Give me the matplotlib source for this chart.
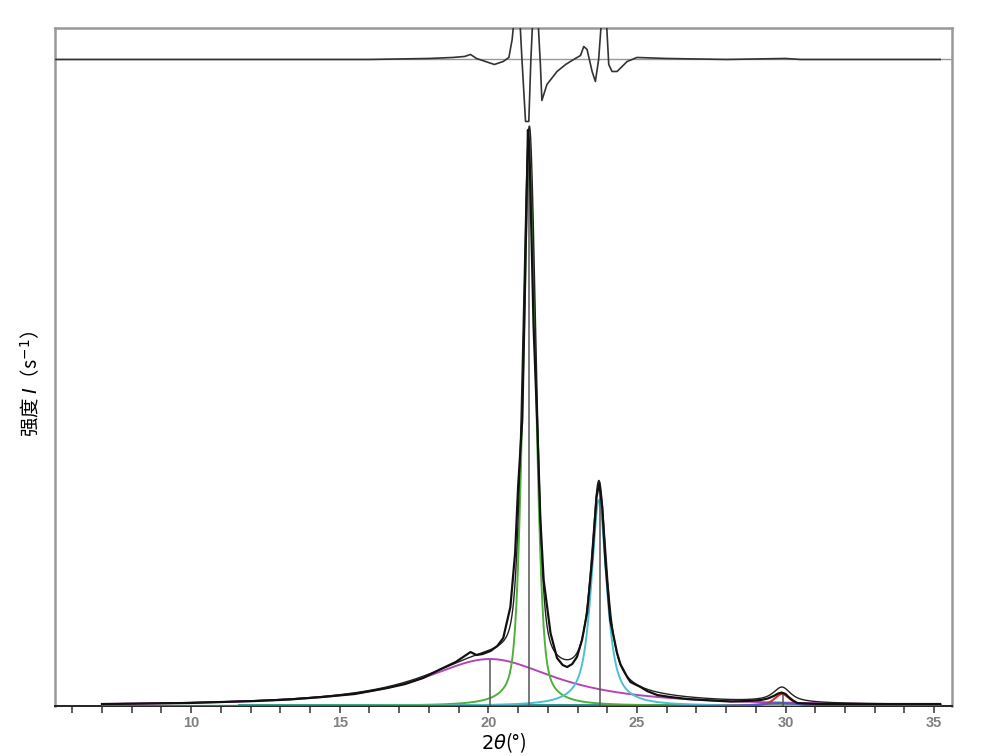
#!/usr/bin/env python3
# -*- coding: utf-8 -*-
"""XRD 分峰拟合图：实测曲线、各拟合峰、残差"""

import numpy as np
import matplotlib
matplotlib.use('Agg')
import matplotlib.pyplot as plt

plt.rcParams['font.family'] = ['Noto Sans CJK SC', 'DejaVu Sans']
plt.rcParams['axes.unicode_minus'] = False

# 实测曲线 (2θ, 强度) —— 从图上读取
obs_x = [7.0, 8.5, 9.9, 11.0, 12.15, 13.3, 14.4, 15.5, 16.6, 17.2, 17.8, 18.4,
         18.9, 19.2, 19.4, 19.6, 19.8, 20.07, 20.3, 20.5, 20.74, 20.9, 21.0,
         21.14, 21.22, 21.28, 21.33, 21.38, 21.45, 21.52, 21.64, 21.75, 21.86,
         22.09, 22.31, 22.5, 22.65, 22.82, 22.98, 23.15, 23.32, 23.49, 23.64,
         23.73, 23.83, 23.94, 24.1, 24.33, 24.44, 24.67, 24.78, 25.12, 25.34,
         25.68, 26.12, 26.7, 27.24, 28.15, 28.7, 29.16, 29.4, 29.6, 29.75,
         29.87, 30.0, 30.1, 30.25, 30.39, 30.7, 31.18, 32.5, 34.0, 35.2]
obs_y = [2, 2.5, 3, 4, 5, 6.5, 9, 12, 18, 22, 28, 37,
         44, 50, 54, 51, 52, 55, 60, 68, 99, 153, 219,
         286, 400, 496, 576, 560, 470, 380, 286, 186, 126,
         73, 48, 41, 39, 42, 49, 66, 93, 146, 209,
         223, 199, 143, 86, 53, 42, 29, 24, 19, 15,
         11, 9, 7, 6, 4.5, 5, 6, 7.5, 10, 12.5,
         13.5, 12, 9, 5.5, 3, 2.5, 2, 2, 2, 2]

# 拟合峰参数：峰位、峰高、半高半宽、洛伦兹占比
peak_pos = [20.05, 21.38, 23.72, 29.88, 29.80]
peak_height = [47, 539, 206, 12, 3]
peak_hwhm = [2.75, 0.26, 0.31, 0.31, 0.8]
peak_eta = [1.0, 0.4, 0.8, 0.6, 0.5]
peak_colors = ['#b545b5', '#4fb03a', '#4cc0d2', '#e32222', '#4a5fc0']

# 峰位标记线的高度
marker_pos = [20.05, 21.35, 23.74, 29.9]
marker_height = [46, 578, 221, 12]

# 残差曲线 (2θ, 残差)
res_x = [5.45, 8.0, 10.0, 12.0, 14.0, 16.0, 17.0, 18.0, 18.8, 19.2, 19.4, 19.6,
         19.9, 20.2, 20.5, 20.69, 20.8, 20.88, 21.05, 21.13, 21.25, 21.36, 21.43,
         21.5, 21.66, 21.75, 21.8, 21.97, 22.31, 22.6, 22.87, 23.1, 23.21, 23.32,
         23.49, 23.6, 23.71, 23.82, 23.96, 24.05, 24.16, 24.33, 24.67, 25.0, 26.0,
         28.0, 30.0, 30.5, 32.0, 35.2]
res_y = [0, 0, 0, 0, 0, 0, 0.5, 1, 2, 3, 5, 1,
         -2, -5, -2, 2, 20, 45, 45, 0, -62, -62, 0,
         45, 45, -5, -41, -25, -12, -5, 0, 4, 13, 10,
         -12, -22, 0, 45, 45, -5, -12, -12, -2, 2, 1,
         0, 1, 0, 0, 0]
res_offset = 646.5


def pseudo_voigt(x, pos, height, hwhm, eta):
    d2 = ((x - pos) / hwhm) ** 2
    lor = 1.0 / (1.0 + d2)
    gau = np.exp(-np.log(2) * d2)
    return height * (eta * lor + (1 - eta) * gau)


fig = plt.figure(figsize=(9.88, 7.56), dpi=100)
ax = fig.add_axes([0.0557, 0.0661, 0.9079, 0.8969])

x = np.linspace(7.0, 35.2, 3000)
total = np.zeros_like(x)

# 基线组分
ax.plot([11.6, 35.2], [0.8, 0.8], color='#2e9c96', lw=2.2, zorder=2)
ax.plot([26.5, 30.5], [0.8, 0.8], color='#b0603a', lw=2.0, zorder=2)

for pos, h, w, eta, c in zip(peak_pos, peak_height, peak_hwhm, peak_eta, peak_colors):
    comp = pseudo_voigt(x, pos, h, w, eta)
    total += comp
    ax.plot(x, comp, color=c, lw=1.4, zorder=3)

# 峰位标记
ax.vlines(marker_pos, 0, marker_height, color='#555555', lw=1.1, zorder=4)

# 拟合总和与实测曲线
ax.plot(x, total, color='#222222', lw=1.0, zorder=5)
ax.plot(obs_x, obs_y, color='#111111', lw=1.6, zorder=6)

# 残差
ax.axhline(res_offset, color='#999999', lw=1.0, zorder=1)
ax.plot(res_x, np.array(res_y) + res_offset, color='#333333', lw=1.2, zorder=6)

ax.set_xlim(5.42, 35.6)
ax.set_ylim(0, 678)
ax.set_yticks([])
ax.set_xticks(range(10, 36, 5))
ax.set_xticks(range(6, 36), minor=True)
ax.tick_params(axis='x', which='both', direction='out', length=5, width=1.1,
               color='#333333', pad=2.5)
for lab in ax.get_xticklabels():
    lab.set_family('Liberation Sans')
    lab.set_fontweight('bold')
    lab.set_fontsize(10.5)
    lab.set_color('#808080')

for side in ['left', 'top', 'right']:
    ax.spines[side].set_color('#999999')
    ax.spines[side].set_linewidth(1.8)
ax.spines['bottom'].set_color('#222222')
ax.spines['bottom'].set_linewidth(1.4)

ax.set_xlabel(r'$2\theta$(°)', fontsize=14, labelpad=0)
ax.set_ylabel('强度 $I$（s$^{-1}$）', fontsize=14)
ax.yaxis.set_label_coords(-0.014, 0.475)

fig.savefig('out.png', dpi=100)
